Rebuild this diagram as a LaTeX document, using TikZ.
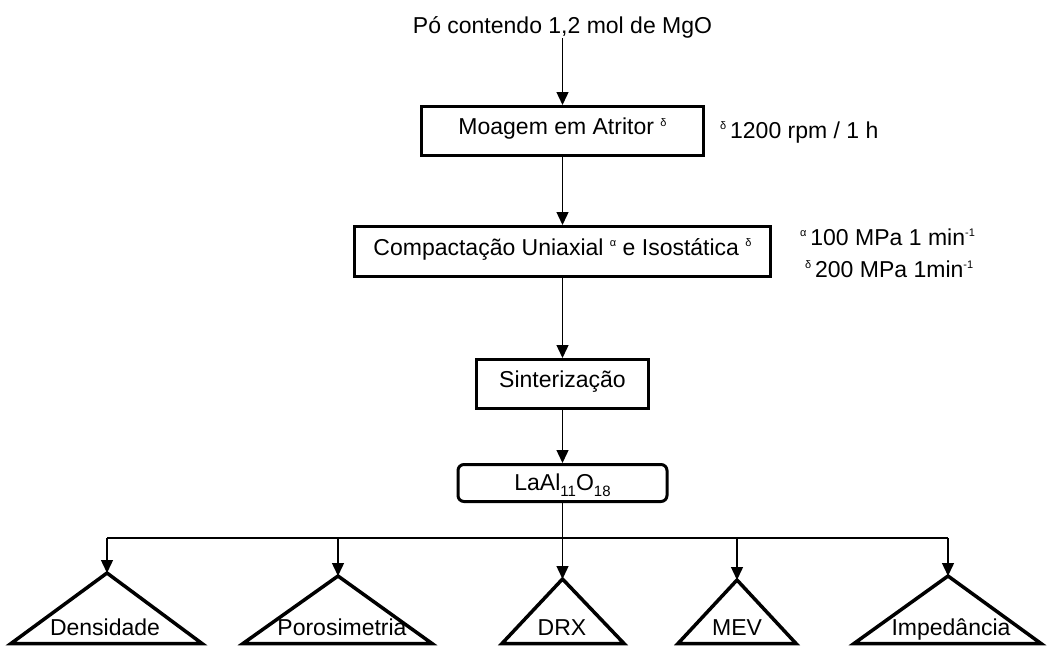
\documentclass[tikz,border=0pt]{standalone}
\usepackage{fontspec}
\setmainfont{Liberation Sans}
\usetikzlibrary{arrows.meta}
\newcommand\supmark[1]{\raisebox{8.5pt}{\fontsize{11}{11}\selectfont #1}}
\newcommand\submark[1]{\raisebox{-6.5pt}{\fontsize{15}{15}\selectfont #1}}
\begin{document}
\begin{tikzpicture}[x=1pt,y=-1pt,
  every node/.style={font=\fontsize{23}{27}\selectfont},
  procbox/.style={draw,line width=3pt,inner sep=0pt,text depth=9pt},
  txt/.style={inner sep=0pt,anchor=base},
  ann/.style={inner sep=0pt,anchor=base west},
  flow/.style={line width=1.4pt,-{Triangle[length=13pt,width=12pt]}},
  busline/.style={line width=1.4pt},
  tri/.style={draw,line width=3.5pt,line join=miter}]
\useasboundingbox (0,0) rectangle (1048,645);

% process chain
\node[txt] (start) at (562.5,33.5) {Pó contendo 1,2 mol de MgO};
\node[procbox,minimum width=282pt,minimum height=49pt] (moag) at (562.5,131) {Moagem em Atritor \supmark{δ}};
\node[procbox,minimum width=416pt,minimum height=50pt] (comp) at (562.5,251.5) {Compactação Uniaxial \supmark{α} e Isostática \supmark{δ}};
\node[procbox,minimum width=172pt,minimum height=49pt] (sint) at (562.5,384) {Sinterização};
\node[procbox,rounded corners=6pt,text depth=2pt,minimum width=209pt,minimum height=37pt] (laal) at (562.5,483) {LaAl\submark{11}O\submark{18}};

% annotations
\node[ann] (a1) at (720,138) {\supmark{δ}\,1200 rpm / 1 h};
\node[ann] (a2) at (800,245) {\supmark{α}\,100 MPa 1 min\supmark{-1}};
\node[ann] (a3) at (805,277) {\supmark{δ}\,200 MPa 1min\supmark{-1}};

\draw[flow] (start) -- (moag);
\draw[flow] (moag) -- (comp);
\draw[flow] (comp) -- (sint);
\draw[flow] (sint) -- (laal);

% triangles
\coordinate (tDen) at (107,573);
\coordinate (tPor) at (338,576);
\coordinate (tDRX) at (562.5,579);
\coordinate (tMEV) at (737,580);
\coordinate (tImp) at (948,576);
\draw[tri] (tDen) -- (11,643.5) -- (202,643.5) -- cycle;
\draw[tri] (tPor) -- (243,643.5) -- (432,643.5) -- cycle;
\draw[tri] (tDRX) -- (502,643.5) -- (624,643.5) -- cycle;
\draw[tri] (tMEV) -- (678,643.5) -- (796,643.5) -- cycle;
\draw[tri] (tImp) -- (854,643.5) -- (1041,643.5) -- cycle;

\node[txt] (lDen) at (105,635) {Densidade};
\node[txt] (lPor) at (342,635) {Porosimetria};
\node[txt] (lDRX) at (562,635) {DRX};
\node[txt] (lMEV) at (737,635) {MEV};
\node[txt] (lImp) at (951,635) {Impedância};

% distribution bus
\coordinate (bDen) at (107,538);
\coordinate (bPor) at (338,538);
\coordinate (bMEV) at (737,538);
\coordinate (bImp) at (948,538);
\draw[busline] (bDen) -- (bImp);
\draw[flow] (laal) -- (tDRX);
\draw[flow] (bDen) -- (tDen);
\draw[flow] (bPor) -- (tPor);
\draw[flow] (bMEV) -- (tMEV);
\draw[flow] (bImp) -- (tImp);
\end{tikzpicture}
\end{document}
